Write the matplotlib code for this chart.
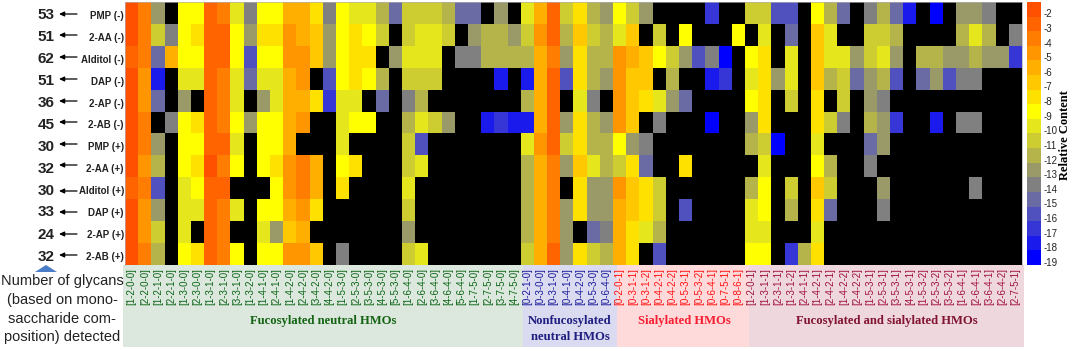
import numpy as np
import matplotlib
matplotlib.use("Agg")
import matplotlib.pyplot as plt
from matplotlib.colors import ListedColormap, BoundaryNorm
from matplotlib.patches import Rectangle, Polygon

X = None
row_labels = ["PMP (-)", "2-AA (-)", "Alditol (-)", "DAP (-)", "2-AP (-)", "2-AB (-)",
              "PMP (+)", "2-AA (+)", "Alditol (+)", "DAP (+)", "2-AP (+)", "2-AB (+)"]
glycan_counts = [53, 51, 62, 51, 36, 45, 30, 32, 30, 33, 24, 32]

fuc_neutral_labels = ["[1-2-0-0]", "[2-2-0-0]", "[1-2-1-0]", "[2-2-1-0]", "[1-3-0-0]", "[2-3-0-0]",
    "[1-3-1-0]", "[2-3-1-0]", "[3-3-1-0]", "[1-3-2-0]", "[1-4-1-0]", "[2-4-1-0]", "[1-4-2-0]",
    "[2-4-2-0]", "[3-4-2-0]", "[4-4-2-0]", "[1-5-3-0]", "[2-5-3-0]", "[3-5-3-0]", "[4-5-3-0]",
    "[5-5-3-0]", "[1-6-4-0]", "[2-6-4-0]", "[3-6-4-0]", "[4-6-4-0]", "[5-6-4-0]", "[1-7-5-0]",
    "[2-7-5-0]", "[3-7-5-0]", "[4-7-5-0]"]
nonfuc_labels = ["[0-2-1-0]", "[0-3-0-0]", "[0-3-1-0]", "[0-4-1-0]", "[0-4-2-0]", "[0-5-3-0]", "[0-6-4-0]"]
sial_labels = ["[0-2-0-1]", "[0-3-1-1]", "[0-3-1-2]", "[0-4-2-1]", "[0-4-2-2]", "[0-5-3-1]",
    "[0-5-3-2]", "[0-6-4-1]", "[0-7-5-1]", "[0-8-6-1]"]
fuc_sial_labels = ["[1-2-0-1]", "[1-3-1-1]", "[2-3-1-1]", "[1-3-1-2]", "[2-4-1-1]", "[1-4-2-1]",
    "[2-4-2-1]", "[1-4-2-2]", "[2-4-2-2]", "[1-5-3-1]", "[2-5-3-1]", "[3-5-3-1]", "[4-5-3-1]",
    "[1-5-3-2]", "[2-5-3-2]", "[3-5-3-2]", "[1-6-4-1]", "[2-6-4-1]", "[3-6-4-1]", "[2-6-4-2]",
    "[2-7-5-1]"]

# One list per glycan (column); entries top row to bottom row, X = not detected
fuc_neutral_values = [
    [-2,-2,-3,-2,-2,-2,-2,-2,-3,-2,-2,-2],
    [-4,-4,-4,-5,-5,-4,-4,-5,-4,-5,-5,-4],
    [-13,-11,-15,-18,-15,X,-13,-12,-16,-13,-11,-12],
    [X,-14,-6,X,X,-14,X,X,X,X,X,X],
    [-9,-9,-9,-10,-13,-9,-9,-9,-10,-10,-10,-9],
    [-9,-8,-9,-10,X,-8,-9,-8,-9,-10,X,-8],
    [-3,-3,-3,-3,-3,-3,-3,-2,-3,-3,-3,-3],
    [-4,-3,-3,-4,-4,-4,-3,-4,-3,-4,-4,-4],
    [-10,-9,-9,-10,-10,-9,-10,-9,X,-10,X,-9],
    [-14,-13,-16,-15,X,-13,X,X,X,X,X,X],
    [-9,-8,-9,-10,-13,-9,-9,-9,X,-9,-10,-9],
    [-9,-8,-9,-10,-10,-9,-9,-8,-9,-9,-13,-9],
    [-6,-5,-5,-6,-6,-6,-6,-5,-5,-6,-7,-5],
    [-6,-6,-5,-5,-6,-5,X,-4,-4,-5,-6,-5],
    [-8,-7,-7,X,-8,X,X,-6,-6,-8,X,-7],
    [-14,-13,-13,-16,-17,X,X,X,X,X,X,X],
    [-9,-9,-9,-9,-10,-10,-10,-9,-8,X,X,-14],
    [-10,-8,-8,-8,-10,-9,X,-8,X,X,X,X],
    [-10,-9,-8,-9,X,-9,X,X,X,X,X,X],
    [-12,-11,X,-12,-15,X,X,X,X,X,X,X],
    [-15,X,-13,X,X,X,X,X,X,X,X,X],
    [-11,-11,-10,-11,-14,-12,-11,-11,-10,-11,-13,-11],
    [-11,-10,-10,-11,-12,-10,-16,-10,X,X,X,-10],
    [-11,-10,-10,-11,X,-11,X,X,X,X,X,X],
    [-12,-11,X,X,X,-13,X,X,X,X,X,X],
    [-15,X,-14,X,X,X,X,X,X,X,X,X],
    [-15,-13,-14,X,X,X,X,X,X,X,X,X],
    [X,-12,-12,X,X,-18,X,X,X,X,X,X],
    [-13,-12,-12,-18,X,-17,X,X,X,X,X,X],
    [X,-13,-12,X,X,-18,X,X,X,X,X,X],
]
nonfuc_values = [
    [-10,-11,-12,-18,-12,-18,-10,-12,-12,-12,-12,-11],
    [-6,-5,-6,-6,-6,-6,-5,-6,-6,-6,-6,-6],
    [-3,-3,-4,-3,-3,-3,-3,-4,-4,-4,-4,-3],
    [-11,-12,-13,-16,X,-13,-11,-13,X,-13,-13,-13],
    [-8,-7,-8,-8,-10,-8,-8,-7,-8,-8,X,-8],
    [-12,-11,-12,-12,-14,-12,-12,-10,-13,-13,-15,-11],
    [-13,-12,-12,-13,X,-13,-12,-12,-13,-13,-14,-12],
]
sial_values = [
    [-9,-10,-5,-5,-5,-5,-9,-11,-5,-6,-6,-6],
    [-11,-7,-6,-7,-7,-7,-13,-8,-7,-7,-8,-8],
    [-13,X,-7,-7,-8,X,-14,-15,-8,-8,-10,X],
    [X,-11,-9,X,-10,-14,X,X,-11,-11,-12,-16],
    [X,X,-11,-12,-13,X,X,X,X,X,X,X],
    [X,-9,-13,X,-15,X,X,-8,X,-16,X,X],
    [X,X,-16,X,X,X,X,X,X,X,X,X],
    [-17,X,-14,-18,X,-19,X,X,X,X,X,X],
    [X,X,-19,-17,X,X,X,X,X,X,X,X],
    [X,-9,X,X,X,X,X,X,X,X,X,X],
]
fuc_sial_values = [
    [-11,X,-9,-10,-9,-13,-12,X,-12,-10,-10,-9],
    [-11,-10,-8,-8,-8,-8,-11,-10,-9,-9,-10,-9],
    [-16,X,X,-13,X,X,-19,X,X,X,X,X],
    [-16,-15,-10,-10,-11,X,X,X,-11,-12,X,-17],
    [X,X,X,X,X,X,X,X,X,X,X,-12],
    [-9,-7,-7,-7,-8,-8,-10,-9,-7,-8,-10,-8],
    [-12,-10,-10,-12,X,-11,X,-12,-11,-15,X,X],
    [-15,X,-10,-11,-11,-14,X,X,X,X,X,X],
    [X,X,-13,-15,X,X,X,X,X,X,X,X],
    [-14,-11,-11,-13,-13,-12,-15,-14,X,X,X,X],
    [-12,-11,-10,-12,-14,-13,-13,X,-13,-14,X,X],
    [-15,-12,-13,-16,X,-17,X,X,X,X,X,X],
    [-18,X,X,X,X,X,X,X,X,X,X,X],
    [X,X,-12,-15,X,X,X,X,X,X,X,X],
    [-19,X,-12,-13,X,-18,X,X,X,X,X,X],
    [X,X,-13,-16,X,X,X,X,X,X,X,X],
    [-13,-12,-13,-14,X,-14,X,X,X,X,X,X],
    [-13,-10,-12,-14,X,-14,X,X,-14,X,X,X],
    [-14,-12,-13,X,X,X,X,X,X,X,X,X],
    [X,X,-13,X,X,X,X,X,X,X,X,X],
    [X,-14,-17,X,X,X,X,X,X,X,X,X],
]
scale_values = list(range(-19, -1))
scale_colors = ["#0000ff", "#1a1aec", "#3636d6", "#5050be", "#6a6aa4", "#808080", "#9a9a68",
                "#b4b44a", "#cdcd32", "#e6e61c", "#ffff00", "#ffe100", "#ffc800", "#ffaf00",
                "#ff9600", "#ff7d00", "#ff6400", "#ff5000"]

W, H = 1072, 351
fig = plt.figure(figsize=(W / 100, H / 100), dpi=100, facecolor="white")
plt.rcParams["font.family"] = ["Liberation Sans", "DejaVu Sans"]
SERIF = "Liberation Serif"

def px_axes(x0, y0, x1, y1, **kw):
    return fig.add_axes([x0 / W, 1 - y1 / H, (x1 - x0) / W, (y1 - y0) / H], **kw)

# Pixel-space overlay for annotation text and the group background bands
bg = px_axes(0, 0, W, H)
bg.set_xlim(0, W); bg.set_ylim(H, 0); bg.axis("off")
bands = [(123, 523, "#dce8dd"), (523, 617, "#dadaf0"), (617, 749, "#ffdada"), (749, 1024, "#eed8de")]
for a, b, c in bands:
    bg.add_patch(Rectangle((a, 265), b - a, 82, facecolor=c, edgecolor="none"))

# Heat map
cols = fuc_neutral_values + nonfuc_values + sial_values + fuc_sial_values
matrix = np.array([[np.nan if v is None else v for v in c] for c in cols], dtype=float).T
cmap = ListedColormap(scale_colors)
cmap.set_bad("black")
norm = BoundaryNorm(np.arange(-19.5, -1), cmap.N)
ax = px_axes(125, 2, 1022, 265)
ax.imshow(np.ma.masked_invalid(matrix), cmap=cmap, norm=norm, aspect="auto", interpolation="nearest")
groups = [(fuc_neutral_labels, "#0a6414"), (nonfuc_labels, "#18189a"),
          (sial_labels, "#ff0f0f"), (fuc_sial_labels, "#a0103c")]
tick_labels = sum((g[0] for g in groups), [])
tick_colors = sum(([g[1]] * len(g[0]) for g in groups), [])
ax.set_xticks(range(len(tick_labels)), tick_labels, rotation=90, fontsize=7)
for t, c in zip(ax.get_xticklabels(), tick_colors):
    t.set_color(c)
ax.tick_params(axis="x", length=0, pad=2)
ax.set_yticks([])
ax.patch.set_alpha(0)
for s in ax.spines.values():
    s.set_edgecolor("#b0b0b0"); s.set_linewidth(0.5)
ax.spines["bottom"].set_visible(False)

# Colour scale
cax = px_axes(1027, 2, 1041, 265)
cax.imshow(np.array(scale_values)[::-1].reshape(-1, 1), cmap=cmap, norm=norm, aspect="auto",
           interpolation="nearest", extent=(0, 1, -19.5, -1.5))
cax.set_xticks([])
cax.yaxis.tick_right()
cax.set_yticks([v - 0.28 for v in scale_values], [str(v) for v in scale_values], fontsize=7, color="#222222")
cax.tick_params(axis="y", length=0, pad=1.5)
for s in cax.spines.values():
    s.set_visible(False)
bg.text(1065, 135, "Relative Content", rotation=90, ha="center", va="center",
        family=SERIF, weight="bold", fontsize=9, color="black")

# Row annotations
count_y = [15, 37, 59, 81, 103, 125, 147, 169, 191, 212, 235, 257]
arrow_y = [14, 35, 57, 79, 101, 122, 144, 165, 191, 212, 234, 255]
label_y = [16, 38, 60, 82, 104, 125, 147, 169, 191, 213, 235, 257]
for i in range(12):
    bg.text(46, count_y[i], str(glycan_counts[i]), ha="center", va="center",
            weight="bold", fontsize=11, color="#222222")
    bg.annotate("", xy=(59, arrow_y[i]), xytext=(77, arrow_y[i]),
                arrowprops=dict(arrowstyle="-|>,head_width=0.14,head_length=0.3", color="black", lw=0.9,
                                shrinkA=0, shrinkB=0))
    bg.text(124, label_y[i], row_labels[i], ha="right", va="center",
            weight="bold", fontsize=7, color="#222222")

bg.add_patch(Polygon([(35, 272), (46, 265), (57, 272)], closed=True, facecolor="#4a7cc8", edgecolor="none"))
left_lines = ["Number of glycans", "(based on mono-", "saccharide com-", "position) detected"]
for txt, y in zip(left_lines, [281, 300, 319, 337]):
    bg.text(62, y, txt, ha="center", va="center", fontsize=10.5, color="#222222")

# Group names
titles = [(323, 321, "Fucosylated neutral HMOs", "#146414"),
          (570, 321, "Nonfucosylated", "#1e1e82"),
          (570, 337, "neutral HMOs", "#1e1e82"),
          (684, 321, "Sialylated HMOs", "#f51e32"),
          (887, 321, "Fucosylated and sialylated HMOs", "#821432")]
for x, y, txt, c in titles:
    bg.text(x, y, txt, ha="center", va="center", family=SERIF, weight="bold", fontsize=9.1, color=c)

fig.savefig("out.png", dpi=100, facecolor="white")
